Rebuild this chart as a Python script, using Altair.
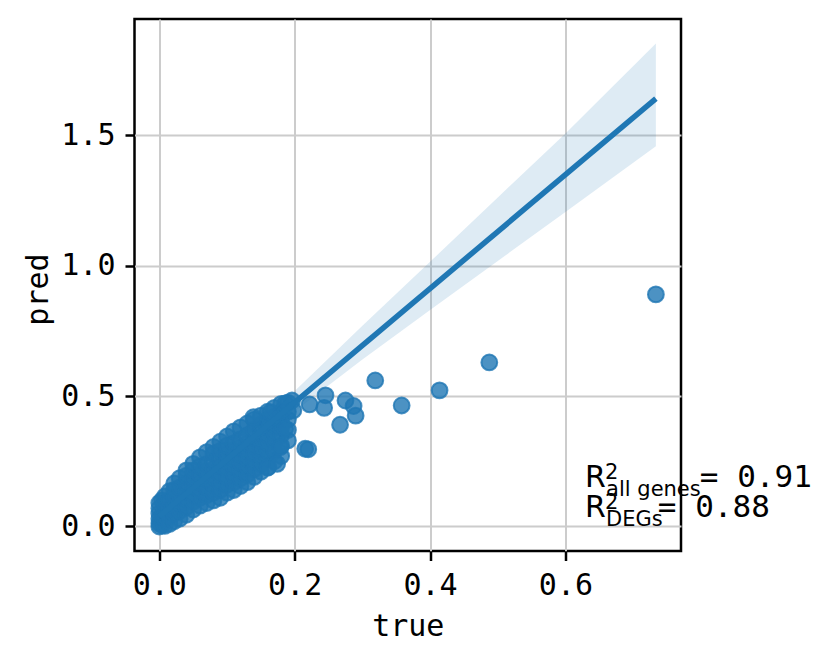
import altair as alt
import pandas as pd

# ---- dense cloud of genes (true, pred)
cloud_x = [0.000, 0.004, 0.008, 0.015, 0.022, 0.030, 0.040, 0.050, 0.060, 0.070, 0.080,
           0.090, 0.100, 0.110, 0.120, 0.130, 0.140, 0.150, 0.160, 0.170, 0.180, 0.190]
cloud_y = [
    [0.000, 0.012, 0.030, 0.050, 0.070, 0.090],
    [0.005, 0.040, 0.100],
    [0.002, 0.030, 0.060, 0.090, 0.115],
    [0.010, 0.040, 0.070, 0.100, 0.135],
    [0.020, 0.050, 0.080, 0.110, 0.140, 0.165],
    [0.030, 0.060, 0.090, 0.120, 0.150, 0.185],
    [0.045, 0.075, 0.105, 0.135, 0.165, 0.195, 0.215],
    [0.065, 0.095, 0.125, 0.155, 0.185, 0.215, 0.240],
    [0.080, 0.110, 0.140, 0.170, 0.200, 0.230, 0.265],
    [0.090, 0.120, 0.150, 0.180, 0.210, 0.240, 0.285],
    [0.100, 0.130, 0.160, 0.190, 0.220, 0.250, 0.280, 0.305],
    [0.110, 0.140, 0.170, 0.200, 0.230, 0.260, 0.290, 0.325],
    [0.130, 0.160, 0.190, 0.220, 0.250, 0.280, 0.310, 0.345],
    [0.140, 0.170, 0.200, 0.230, 0.260, 0.290, 0.320, 0.365],
    [0.155, 0.185, 0.215, 0.245, 0.275, 0.305, 0.335, 0.380],
    [0.170, 0.200, 0.230, 0.260, 0.290, 0.320, 0.350, 0.395],
    [0.190, 0.220, 0.250, 0.280, 0.310, 0.340, 0.370, 0.410],
    [0.210, 0.240, 0.270, 0.300, 0.330, 0.360, 0.390, 0.425],
    [0.225, 0.260, 0.290, 0.320, 0.350, 0.380, 0.410, 0.440],
    [0.250, 0.290, 0.330, 0.360, 0.390, 0.420, 0.455],
    [0.270, 0.310, 0.350, 0.380, 0.410, 0.440, 0.470],
    [0.330, 0.370, 0.410, 0.440, 0.475],
]

# ---- individually visible points
outlier_x = [0.7336, 0.4875, 0.414, 0.358, 0.319, 0.275, 0.287, 0.290, 0.267, 0.2455,
             0.2435, 0.222, 0.2155, 0.220, 0.196, 0.186, 0.198, 0.1786, 0.186, 0.164,
             0.139, 0.161, 0.174]
outlier_y = [0.890, 0.629, 0.522, 0.464, 0.560, 0.483, 0.462, 0.425, 0.390, 0.503,
             0.455, 0.468, 0.298, 0.296, 0.483, 0.472, 0.445, 0.304, 0.375, 0.438,
             0.419, 0.228, 0.240]

# ---- regression line and its confidence band
fit_x = [0.0, 0.7336]
fit_y = [0.039, 1.641]
band_x = [0.0, 0.05, 0.1, 0.2, 0.3, 0.4, 0.5, 0.6, 0.7336]
band_lo = [0.028, 0.140, 0.245, 0.442, 0.640, 0.830, 1.018, 1.206, 1.458]
band_hi = [0.050, 0.155, 0.268, 0.520, 0.770, 1.015, 1.262, 1.507, 1.852]

# ---- R^2 annotations
ann_sub = ["all genes", "DEGs"]
ann_val = ["= 0.91", "= 0.88"]
ann_x = [0.629, 0.629]
ann_y = [0.1497, 0.0365]
ann_eq_x = [0.7985, 0.7365]

x_ticks = [0.0, 0.2, 0.4, 0.6]
y_ticks = [0.0, 0.5, 1.0, 1.5]

BLUE = "#1f77b4"
MONO = "DejaVu Sans Mono"

rows = []
for cx, ys in zip(cloud_x, cloud_y):
    for cy in ys:
        rows.append({"true": cx, "pred": cy})
for ox, oy in zip(outlier_x, outlier_y):
    rows.append({"true": ox, "pred": oy})
pts = pd.DataFrame(rows)
line_df = pd.DataFrame({"true": fit_x, "pred": fit_y})
band_df = pd.DataFrame({"true": band_x, "lo": band_lo, "hi": band_hi})
ann_df = pd.DataFrame({"true": ann_x, "pred": ann_y, "sub": ann_sub, "val": ann_val, "eqx": ann_eq_x})

xscale = alt.Scale(domain=[-0.0367, 0.7707], nice=False, zero=False)
yscale = alt.Scale(domain=[-0.094, 1.946], nice=False, zero=False)
xaxis = alt.Axis(values=x_ticks, format=".1f", title="true", labelPadding=10,
                 titleY=84, titleBaseline="alphabetic")
yaxis = alt.Axis(values=y_ticks, format=".1f", title="pred", labelPadding=10,
                 titleX=-87.5, titleY=270, titleBaseline="alphabetic", titleAngle=270)

X = alt.X("true:Q", scale=xscale, axis=xaxis)
Y = alt.Y("pred:Q", scale=yscale, axis=yaxis)

points = alt.Chart(pts).mark_circle(
    size=250, color=BLUE, fillOpacity=0.8, stroke=BLUE, strokeOpacity=0.8, strokeWidth=2
).encode(x=X, y=Y)

band = alt.Chart(band_df).mark_area(color=BLUE, opacity=0.15).encode(
    x=X, y=alt.Y("lo:Q", scale=yscale, axis=yaxis), y2="hi:Q")

line = alt.Chart(line_df).mark_line(color=BLUE, strokeWidth=5.5).encode(x=X, y=Y)

base_ann = alt.Chart(ann_df)
t_R = base_ann.mark_text(text="R", font="DejaVu Sans", fontSize=30, align="left",
                         baseline="alphabetic", color="black").encode(x=X, y=Y)
t_sup = base_ann.mark_text(text="2", font="DejaVu Sans", fontSize=21, align="left",
                           baseline="alphabetic", dx=20, dy=-8, color="black").encode(x=X, y=Y)
t_sub = base_ann.mark_text(font="DejaVu Sans", fontSize=21, align="left",
                           baseline="alphabetic", dx=21, dy=9, color="black").encode(
    x=X, y=Y, text="sub:N")
t_val = base_ann.mark_text(font=MONO, fontSize=31, align="left",
                           baseline="alphabetic", color="black").encode(
    x=alt.X("eqx:Q", scale=xscale, axis=xaxis), y=Y, text="val:N")

chart = alt.layer(points, band, line, t_R, t_sup, t_sub, t_val).properties(
    width=546.5, height=532,
    autosize=alt.AutoSizeParams(type="none"),
    padding={"left": 126.5, "top": 11, "right": 142, "bottom": 100},
).configure(background="white").configure_view(
    stroke="black", strokeWidth=2.5
).configure_axis(
    labelFont=MONO, titleFont=MONO, labelFontSize=30, titleFontSize=30,
    titleFontWeight="normal", labelColor="black", titleColor="black",
    grid=True, gridColor="#cccccc", gridWidth=2, domain=False,
    tickColor="black", tickWidth=2.5, tickSize=9.5,
)

chart.save("out.html", embed_options={"renderer": "svg", "actions": False})
